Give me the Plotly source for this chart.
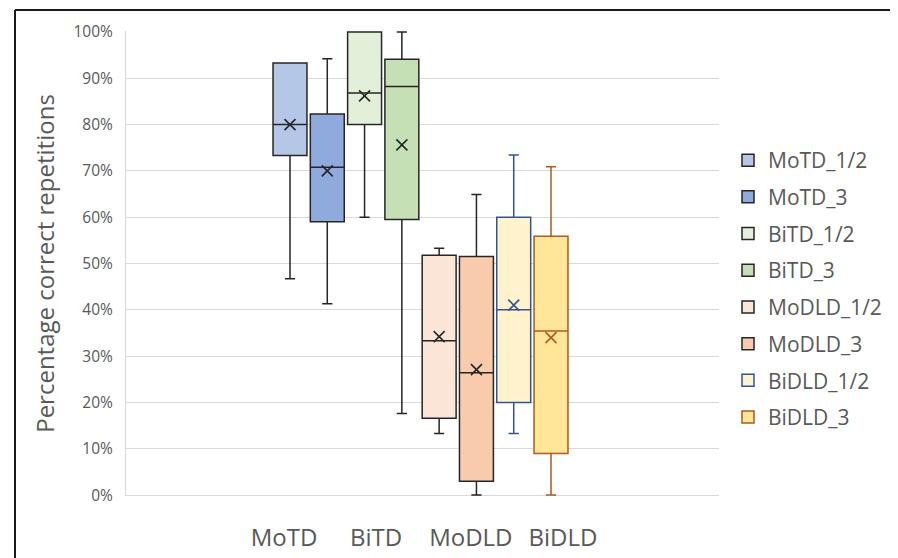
import plotly.graph_objects as go

# ---------------- data ----------------
series = ["MoTD_1/2", "MoTD_3", "BiTD_1/2", "BiTD_3",
          "MoDLD_1/2", "MoDLD_3", "BiDLD_1/2", "BiDLD_3"]
q1_vals = [0.733, 0.590, 0.800, 0.595, 0.166, 0.030, 0.200, 0.090]
median_vals = [0.800, 0.708, 0.868, 0.882, 0.333, 0.264, 0.400, 0.354]
q3_vals = [0.933, 0.823, 1.000, 0.941, 0.518, 0.515, 0.600, 0.559]
lower_vals = [0.467, 0.413, 0.600, 0.176, 0.133, 0.000, 0.133, 0.000]
upper_vals = [0.933, 0.942, 1.000, 1.000, 0.533, 0.649, 0.734, 0.709]
mean_vals = [0.800, 0.700, 0.862, 0.756, 0.342, 0.271, 0.410, 0.340]

categories = ["MoTD", "BiTD", "MoDLD", "BiDLD"]
y_ticks = [0, 0.1, 0.2, 0.3, 0.4, 0.5, 0.6, 0.7, 0.8, 0.9, 1.0]

# ---------------- styles ----------------
fills = ["#B4C7E7", "#8FAADC", "#E2F0D9", "#C5E0B4",
         "#FBE5D6", "#F8CBAD", "#FFF2CC", "#FFE699"]
lines = ["#262626", "#262626", "#262626", "#262626",
         "#262626", "#262626", "#2F5597", "#B4581B"]
box_pos = list(range(len(series)))
cat_pos = [-0.16, 2.31, 4.85, 7.32]

FONT = "Open Sans, Lato, sans-serif"

fig = go.Figure()
for i, name in enumerate(series):
    fig.add_trace(go.Box(
        name=name,
        x=[box_pos[i]],
        q1=[q1_vals[i]], median=[median_vals[i]], q3=[q3_vals[i]],
        lowerfence=[lower_vals[i]], upperfence=[upper_vals[i]],
        fillcolor=fills[i],
        line=dict(color=lines[i], width=1.5),
        width=0.91,
        whiskerwidth=0.3,
        boxpoints=False,
        legendgroup=name,
        hoverinfo="skip",
    ))
for i, name in enumerate(series):
    fig.add_trace(go.Scatter(
        x=[box_pos[i]], y=[mean_vals[i]],
        mode="markers",
        marker=dict(symbol="x-thin", size=11,
                    line=dict(color=lines[i], width=1.6)),
        showlegend=False,
        legendgroup=name,
        hoverinfo="skip",
    ))

# page body has an 8px margin, so figure coords = screen coords - 8
OFF = 8
W, H = 890, 550
L, R, T, B = 126 - OFF, 719 - OFF, 31 - OFF, 496 - OFF
pw, ph = R - L, B - T

def px2x(p):
    return (p - OFF - L) / pw

def px2y(p):
    return (B - (p - OFF)) / ph

fig.update_layout(
    width=W, height=H,
    margin=dict(l=L, r=W - R, t=T, b=H - B, autoexpand=False),
    paper_bgcolor="white", plot_bgcolor="white",
    font=dict(family=FONT, color="#595959"),
    showlegend=True,
    legend=dict(
        x=px2x(728), y=px2y(140), xanchor="left", yanchor="top",
        font=dict(size=21, color="#595959", family=FONT),
        tracegroupgap=6.4,
        bgcolor="rgba(0,0,0,0)",
    ),
    xaxis=dict(
        range=[-4.398, 11.505],
        tickmode="array", tickvals=cat_pos, ticktext=categories,
        tickfont=dict(size=24, color="#595959", family=FONT),
        showgrid=False, zeroline=False, showline=False,
        ticks="", ticklabelstandoff=25,
    ),
    yaxis=dict(
        range=[-0.002, 1.002], tickmode="array", tickvals=y_ticks,
        tickformat=".0%",
        tickfont=dict(size=15.5, color="#595959", family=FONT),
        showgrid=True, gridcolor="#D9D9D9", gridwidth=1,
        zeroline=True, zerolinecolor="#D9D9D9", zerolinewidth=1,
        showline=True, linecolor="#D9D9D9", linewidth=1,
        ticks="", ticklabelstandoff=9,
        title=dict(text="Percentage correct repetitions",
                   font=dict(size=24, color="#595959", family=FONT),
                   standoff=12),
    ),
    shapes=[
        dict(type="line", xref="paper", yref="paper",
             x0=px2x(15), x1=px2x(900), y0=px2y(10), y1=px2y(10),
             line=dict(color="#1a1a1a", width=2)),
        dict(type="line", xref="paper", yref="paper",
             x0=px2x(15), x1=px2x(15), y0=px2y(10), y1=px2y(560),
             line=dict(color="#1a1a1a", width=2)),
    ],
)

fig.write_html("out.html")
